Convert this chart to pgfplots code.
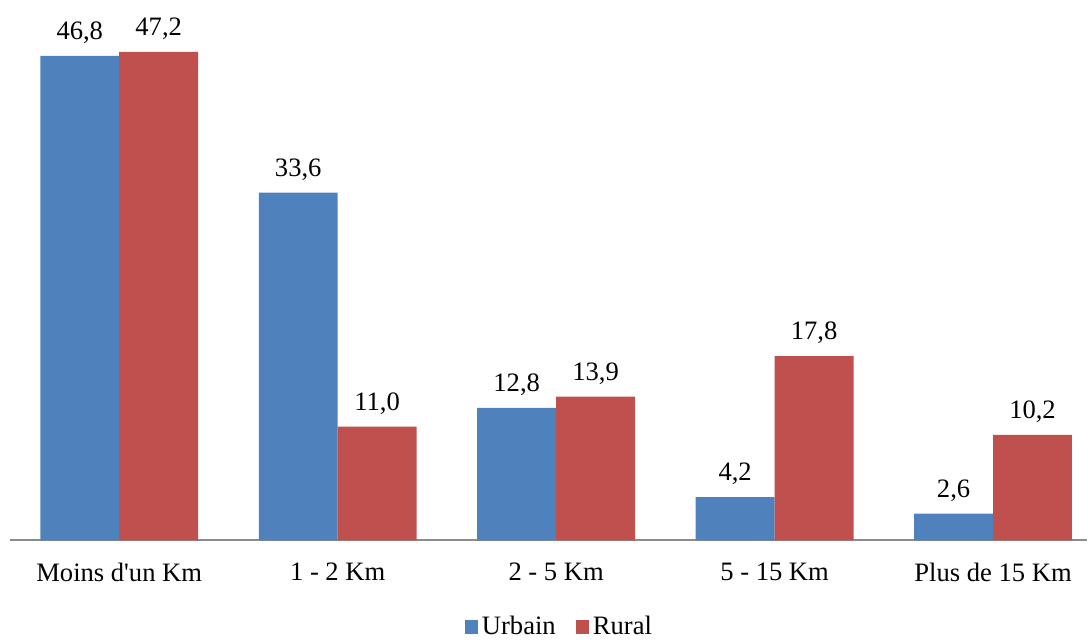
\documentclass[border=0pt]{standalone}
\usepackage{fontspec}
\setmainfont{Liberation Serif}
\usepackage{pgfplots}
\pgfplotsset{compat=1.18}
\definecolor{urb}{HTML}{4F81BD}
\definecolor{rur}{HTML}{C0504D}
\begin{document}
\fontsize{13.3}{16}\selectfont
\begin{tikzpicture}
\begin{axis}[
  scale only axis, width=539pt, height=270.5pt,
  xmin=-0.5, xmax=4.43, ymin=0, ymax=52.2,
  ybar=0pt, bar width=39.5pt,
  axis x line=bottom, axis y line=none,
  x axis line style={draw=gray!90, line width=1pt, -},
  xtick={0,1,2,3,4}, major tick length=0pt,
  xticklabels={Moins d\textquotesingle un Km, 1 - 2 Km, 2 - 5 Km, 5 - 15 Km, Plus de 15 Km},
  xticklabel style={font=\fontsize{13.3}{16}\selectfont, yshift=-6.5pt},
  ytick=\empty,
  clip=false,
  nodes near coords,
  every node near coord/.append style={font=\fontsize{13.3}{16}\selectfont, yshift=1.5pt},
  /pgf/number format/.cd, use comma, fixed, fixed zerofill, precision=1, assume math mode=true,
  /pgfplots/.cd,
  legend style={at={(0.511,-0.16)}, anchor=center, draw=none, legend columns=-1,
    font=\fontsize{13.3}{16}\selectfont, /tikz/every even column/.append style={column sep=8pt},
    inner sep=0pt},
  legend image code/.code={\fill[#1] (0pt,-3.3pt) rectangle (6.6pt,3.3pt);},
]
\addplot[fill=urb, draw=none] coordinates {(0,46.8) (1,33.6) (2,12.8) (3,4.2) (4,2.6)};
\addplot[fill=rur, draw=none] coordinates {(0,47.2) (1,11.0) (2,13.9) (3,17.8) (4,10.2)};
\legend{Urbain, Rural}
\end{axis}
\path[use as bounding box] (-5pt,-47pt) rectangle (539pt,270.5pt);
\end{tikzpicture}
\end{document}
